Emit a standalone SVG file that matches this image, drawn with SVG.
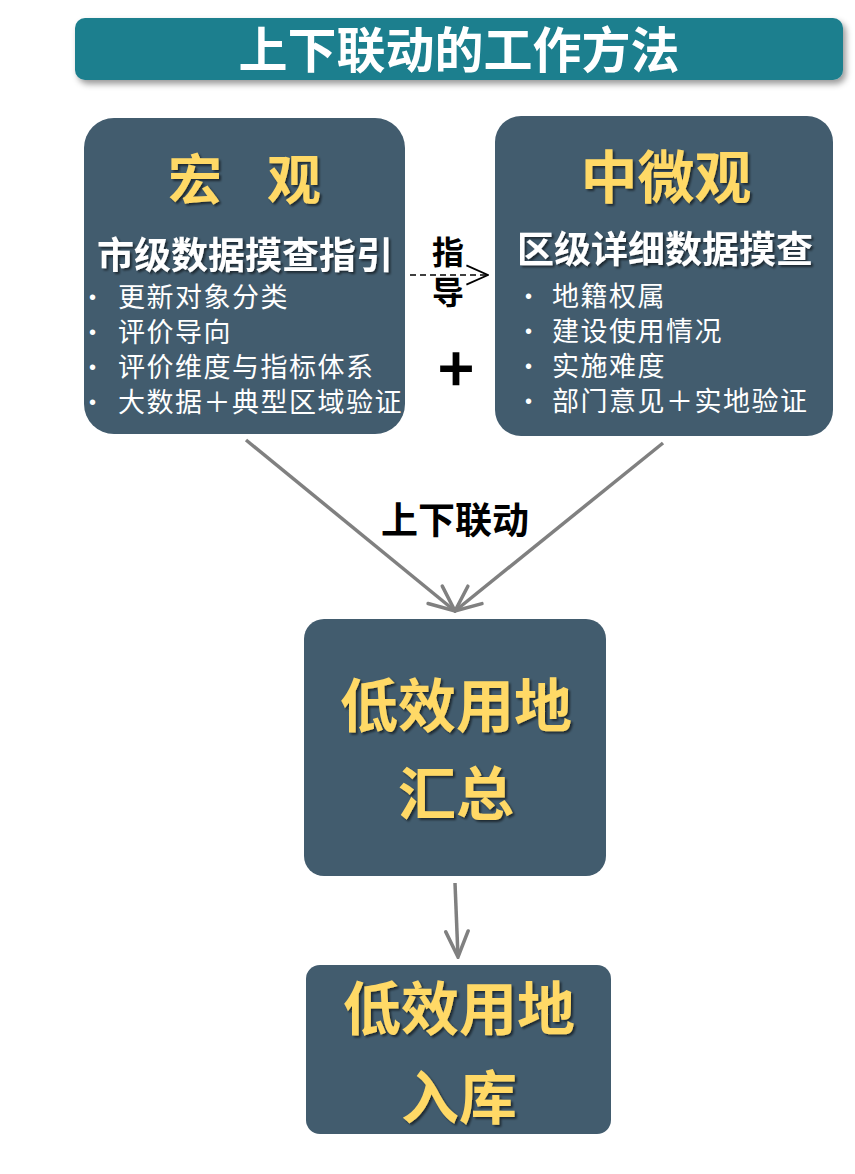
<svg xmlns="http://www.w3.org/2000/svg" width="855" height="1174" viewBox="0 0 855 1174">
<defs>
<style>
.box{fill:#425C6E;}
.cjk{font-family:"Noto Sans CJK SC","Liberation Sans",sans-serif;}
.lat{font-family:"Liberation Sans","Noto Sans CJK SC",sans-serif;}
.yt{fill:#FFD966;font-weight:bold;text-anchor:middle;filter:url(#ts);}
.wt{fill:#FFFFFF;font-weight:bold;text-anchor:middle;filter:url(#ts);}
.bl{fill:#FFFFFF;font-size:27px;letter-spacing:1.5px;}
.dot{fill:#FFFFFF;font-family:"Liberation Sans",sans-serif;font-size:20px;}
.bk{fill:#000000;font-weight:bold;text-anchor:middle;}
.conn{stroke:#808080;stroke-width:3.5;fill:none;}
</style>
<filter id="ts" x="-10%" y="-20%" width="130%" height="150%">
<feDropShadow dx="2" dy="2" stdDeviation="1.2" flood-color="#000" flood-opacity="0.55"/>
</filter>
<filter id="bs" x="-5%" y="-20%" width="110%" height="160%">
<feDropShadow dx="3" dy="4" stdDeviation="3" flood-color="#000" flood-opacity="0.4"/>
</filter>
<marker id="ahg" viewBox="0 0 20 20" refX="19" refY="10" markerWidth="32" markerHeight="32" orient="auto" markerUnits="userSpaceOnUse">
<path d="M3,3 L19,10 L3,17" fill="none" stroke="#808080" stroke-width="2.2" stroke-linecap="round"/>
</marker>
<marker id="ahd" viewBox="0 0 20 20" refX="19" refY="10" markerWidth="24" markerHeight="24" orient="auto" markerUnits="userSpaceOnUse">
<path d="M1,2 L19,10 L1,18" fill="none" stroke="#000" stroke-width="1.5"/>
</marker>
</defs>

<g id="title">
<rect x="75" y="18" width="768" height="62" rx="10" fill="#1E7F8E" filter="url(#bs)"/>
<text x="459" y="68" class="cjk" font-size="49" font-weight="bold" fill="#FFFFFF" text-anchor="middle">上下联动的工作方法</text>
</g>

<g id="macro">
<rect class="box" x="84" y="118" width="321" height="316" rx="30"/>
<text class="cjk yt" font-size="54" y="200"><tspan x="195">宏</tspan><tspan x="294">观</tspan></text>
<text x="245" y="269" class="cjk wt" font-size="37">市级数据摸查指引</text>
<text class="dot"><tspan x="89" y="304">•</tspan><tspan x="89" y="339">•</tspan><tspan x="89" y="374">•</tspan><tspan x="89" y="409">•</tspan></text>
<text class="lat bl"><tspan x="118" y="307">更新对象分类</tspan><tspan x="118" y="342">评价导向</tspan><tspan x="118" y="377">评价维度与指标体系</tspan><tspan x="118" y="412">大数据＋典型区域验证</tspan></text>
</g>

<g id="micro">
<rect class="box" x="495" y="116" width="338" height="320" rx="26"/>
<text x="666" y="198" class="cjk yt" font-size="57">中微观</text>
<text x="665" y="263" class="cjk wt" font-size="37">区级详细数据摸查</text>
<text class="dot"><tspan x="525" y="303">•</tspan><tspan x="525" y="338">•</tspan><tspan x="525" y="373">•</tspan><tspan x="525" y="408">•</tspan></text>
<text class="lat bl" letter-spacing="1"><tspan x="552" y="306">地籍权属</tspan><tspan x="552" y="341">建设使用情况</tspan><tspan x="552" y="376">实施难度</tspan><tspan x="552" y="411">部门意见＋实地验证</tspan></text>
</g>

<g id="summary">
<rect class="box" x="304" y="619" width="302" height="257" rx="20"/>
<text class="cjk yt" font-size="58"><tspan x="456" y="727">低效用地</tspan><tspan x="456" y="815">汇总</tspan></text>
</g>

<g id="store">
<rect class="box" x="306" y="965" width="305" height="169" rx="14"/>
<text class="cjk yt" font-size="58"><tspan x="459" y="1030">低效用地</tspan><tspan x="459" y="1119">入库</tspan></text>
</g>

<g id="labels">
<text class="lat bk" font-size="32"><tspan x="448" y="264">指</tspan><tspan x="448" y="304">导</tspan></text>
<text x="456" y="392" class="cjk bk" font-size="62">+</text>
<text x="455" y="534" class="cjk bk" font-size="37">上下联动</text>
</g>

<g id="connectors">
<line x1="410" y1="275" x2="488" y2="275" stroke="#000" stroke-width="1.5" stroke-dasharray="6,4" marker-end="url(#ahd)"/>
<line class="conn" x1="246" y1="440" x2="455" y2="611" marker-end="url(#ahg)"/>
<line class="conn" x1="663" y1="443" x2="455" y2="611" marker-end="url(#ahg)"/>
<line class="conn" x1="455" y1="883" x2="458" y2="957" marker-end="url(#ahg)"/>
</g>
</svg>
